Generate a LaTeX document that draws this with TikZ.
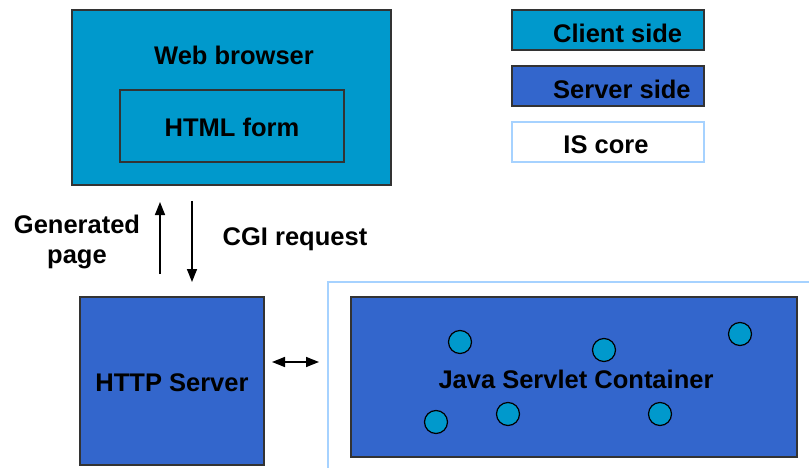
\documentclass[tikz,border=0pt]{standalone}
\usepackage{fontspec}
\setmainfont{Liberation Sans}
\usetikzlibrary{arrows.meta}
\definecolor{clientc}{HTML}{0099CC}
\definecolor{serverc}{HTML}{3366CC}
\definecolor{corec}{HTML}{A6D2FF}
\definecolor{edgec}{HTML}{333333}
\tikzset{
  box/.style={draw=edgec, line width=1.5pt, inner sep=0pt, rectangle},
  clientbox/.style={box, fill=clientc},
  serverbox/.style={box, fill=serverc},
  corebox/.style={draw=corec, line width=1.5pt, fill=white, inner sep=0pt, rectangle},
  lbl/.style={font=\fontsize{25.5}{30}\selectfont\bfseries, inner sep=0pt, text=black},
  servlet/.style={circle, draw=black, line width=1.2pt, fill=clientc, minimum size=23pt, inner sep=0pt},
  arr/.style={line width=1.5pt, -{Triangle[length=13pt,width=10pt]}},
  darr/.style={line width=1.5pt, {Triangle[length=13pt,width=10pt]}-{Triangle[length=13pt,width=10pt]}}
}
\begin{document}
\begin{tikzpicture}[x=1pt,y=-1pt]
\useasboundingbox[fill=white] (0,0) rectangle (809,468);
% IS core region
\draw[draw=corec, line width=1.5pt] (328,468) -- (328,282) -- (809,282);
% Web browser
\node[clientbox, minimum width=319pt, minimum height=175pt] (browser) at (231.5,97.5) {};
\node[lbl] (browserlbl) at (234,55) {Web browser};
\node[box, minimum width=224pt, minimum height=72pt] (form) at (232,126) {};
\node[lbl] (formlbl) at (232,127) {HTML form};
% Legend
\node[clientbox, minimum width=192pt, minimum height=40pt] (leg1) at (608,30) {};
\node[lbl, anchor=west] (leg1lbl) at (553,33) {Client side};
\node[serverbox, minimum width=192pt, minimum height=40pt] (leg2) at (608,86) {};
\node[lbl, anchor=west] (leg2lbl) at (553,89) {Server side};
\node[corebox, minimum width=192pt, minimum height=40pt] (leg3) at (608,142) {};
\node[lbl] (leg3lbl) at (606,145) {IS core};
% HTTP server
\node[serverbox, minimum width=184pt, minimum height=168pt] (http) at (172,381) {};
\node[lbl] (httplbl) at (172,383) {HTTP Server};
% Java container
\node[serverbox, minimum width=446pt, minimum height=160pt] (java) at (574,377) {};
\node[lbl] (javalbl) at (576,379) {Java Servlet Container};
\node[servlet] (s1) at (460,342) {};
\node[servlet] (s2) at (604,350) {};
\node[servlet] (s3) at (740,334) {};
\node[servlet] (s4) at (436,422) {};
\node[servlet] (s5) at (508,414) {};
\node[servlet] (s6) at (660,414) {};
% Request/response arrows
\coordinate (upstart) at (160,274);
\coordinate (upend) at (160,202);
\coordinate (downstart) at (192,201);
\coordinate (downend) at (192,282);
\draw[arr] (upstart) -- (upend);
\draw[arr] (downstart) -- (downend);
\node[lbl, align=center] (genlbl) at (77,242) {Generated\\page};
\node[lbl] (cgilbl) at (295,239) {CGI request};
% HTTP <-> Java
\coordinate (dl) at (272,362);
\coordinate (dr) at (319,362);
\draw[darr] (dl) -- (dr);
\end{tikzpicture}
\end{document}
